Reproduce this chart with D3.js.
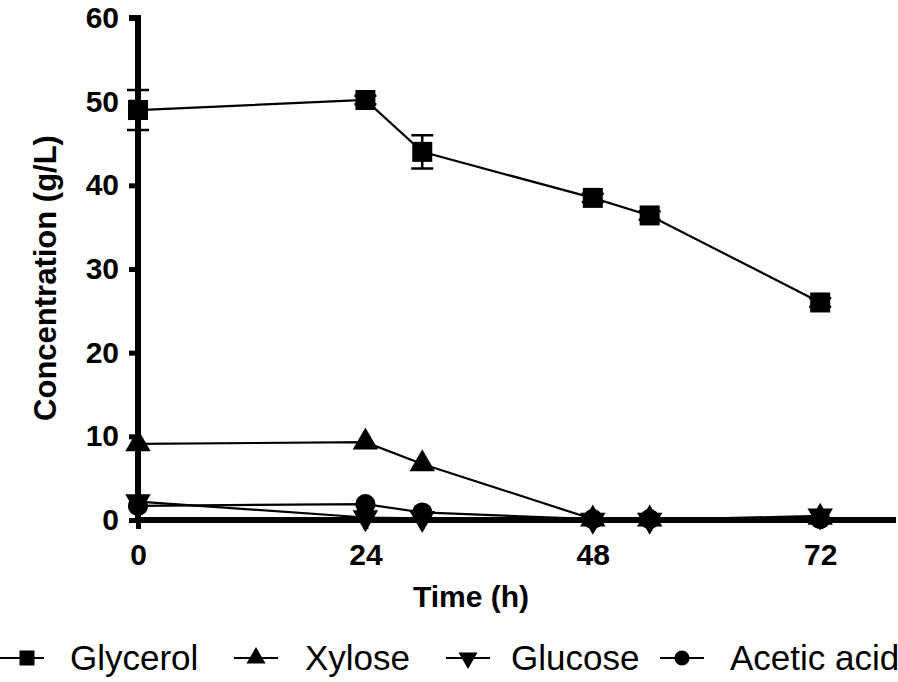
<!DOCTYPE html>
<html><head><meta charset="utf-8">
<script src="https://cdn.jsdelivr.net/npm/d3@7"></script>
<style>body{margin:0;background:#fff}svg{display:block}</style>
</head><body><svg id="c" width="898" height="682"></svg>
<script>
const times = [0, 24, 30, 48, 54, 72];
const glycerol = [49.0, 50.2, 44.0, 38.5, 36.4, 26.0];
const glycerolErr = [2.4, 0.5, 2.0, 0.5, 0.5, 0.5];
const xylose = [9.1, 9.3, 6.7, 0.1, 0.1, 0.3];
const glucose = [2.2, 0.3, 0.2, 0.0, 0.0, 0.5];
const aceticAcid = [1.7, 1.9, 0.9, 0.1, 0.1, 0.1];
const xTicks = [0, 24, 48, 72];
const yTicks = [0, 10, 20, 30, 40, 50, 60];
const seriesNames = ["Glycerol", "Xylose", "Glucose", "Acetic acid"];

const svg = d3.select("#c");
const x = d3.scaleLinear().domain([0, 80]).range([138, 896]);
const y = d3.scaleLinear().domain([0, 60]).range([520, 18]);

const font = "Liberation Sans, Arial, sans-serif";

// Axes
const yAxis = svg.append("g").attr("transform", "translate(138,0)")
  .call(d3.axisLeft(y).tickValues(yTicks).tickSize(9).tickPadding(10));
const xAxis = svg.append("g").attr("transform", "translate(0,520)")
  .call(d3.axisBottom(x).tickValues(xTicks).tickSize(9).tickPadding(15));
[yAxis, xAxis].forEach(a => {
  a.select(".domain").attr("stroke", "#000").attr("stroke-width", 6);
  a.selectAll(".tick line").attr("stroke", "#000").attr("stroke-width", 5);
  a.selectAll(".tick text").attr("font-family", font).attr("font-weight", "bold")
    .attr("font-size", 30).attr("fill", "#000");
});
yAxis.select(".domain").attr("d", `M-9,${y(60)}H0V${y(0)+3}`);
xAxis.select(".domain").attr("d", `M${x(0)-3},0H${x(80)}`);

// Titles
svg.append("text").attr("x", 471).attr("y", 607).attr("text-anchor", "middle")
  .attr("font-family", font).attr("font-weight", "bold").attr("font-size", 30).text("Time (h)");
svg.append("text").attr("transform", "translate(56,278) rotate(-90)").attr("text-anchor", "middle")
  .attr("font-family", font).attr("font-weight", "bold").attr("font-size", 31).text("Concentration (g/L)");

function marker(g, kind, cx, cy, s) {
  const sym = {
    square: d3.symbol().type(d3.symbolSquare).size(s * s),
    up: d3.symbol().type(d3.symbolTriangle).size(s * s * 0.7),
    down: d3.symbol().type(d3.symbolTriangle).size(s * s * 0.7),
    circle: d3.symbol().type(d3.symbolCircle).size(s * s * 0.8)
  };
  g.append("path").attr("d", sym[kind]())
    .attr("transform", `translate(${cx},${cy})` + (kind === "down" ? " rotate(180)" : ""))
    .attr("fill", "#000");
}

const series = [
  {vals: glycerol, kind: "square"},
  {vals: xylose, kind: "up"},
  {vals: glucose, kind: "down"},
  {vals: aceticAcid, kind: "circle"}
];
const line = d3.line().x((d, i) => x(times[i])).y(d => y(d));
const plot = svg.append("g");
// error bars for glycerol
glycerol.forEach((v, i) => {
  const e = glycerolErr[i];
  const cx = x(times[i]);
  plot.append("path").attr("d", `M${cx},${y(v+e)}V${y(v-e)}M${cx-11},${y(v+e)}H${cx+11}M${cx-11},${y(v-e)}H${cx+11}`)
    .attr("stroke", "#000").attr("stroke-width", 2.5).attr("fill", "none");
});
series.slice().reverse().forEach(s => {
  plot.append("path").attr("d", line(s.vals)).attr("fill", "none").attr("stroke", "#000").attr("stroke-width", 2.2);
  s.vals.forEach((v, i) => marker(plot, s.kind, x(times[i]), y(v), 20));
});

// Legend
const legItems = [
  {name: seriesNames[0], kind: "square", lx: 0, tx: 70},
  {name: seriesNames[1], kind: "up", lx: 234, tx: 305},
  {name: seriesNames[2], kind: "down", lx: 446, tx: 511},
  {name: seriesNames[3], kind: "circle", lx: 660, tx: 730}
];
const lg = svg.append("g");
legItems.forEach(it => {
  lg.append("line").attr("x1", it.lx).attr("x2", it.lx + 44).attr("y1", 658).attr("y2", 658)
    .attr("stroke", "#000").attr("stroke-width", 2.2);
  marker(lg, it.kind, it.lx + 22 + (it.lx === 0 ? 5 : 0), 658, 15);
  lg.append("text").attr("x", it.tx).attr("y", 670).attr("font-family", font)
    .attr("font-size", 35).attr("fill", "#000").text(it.name);
});
</script></body></html>
